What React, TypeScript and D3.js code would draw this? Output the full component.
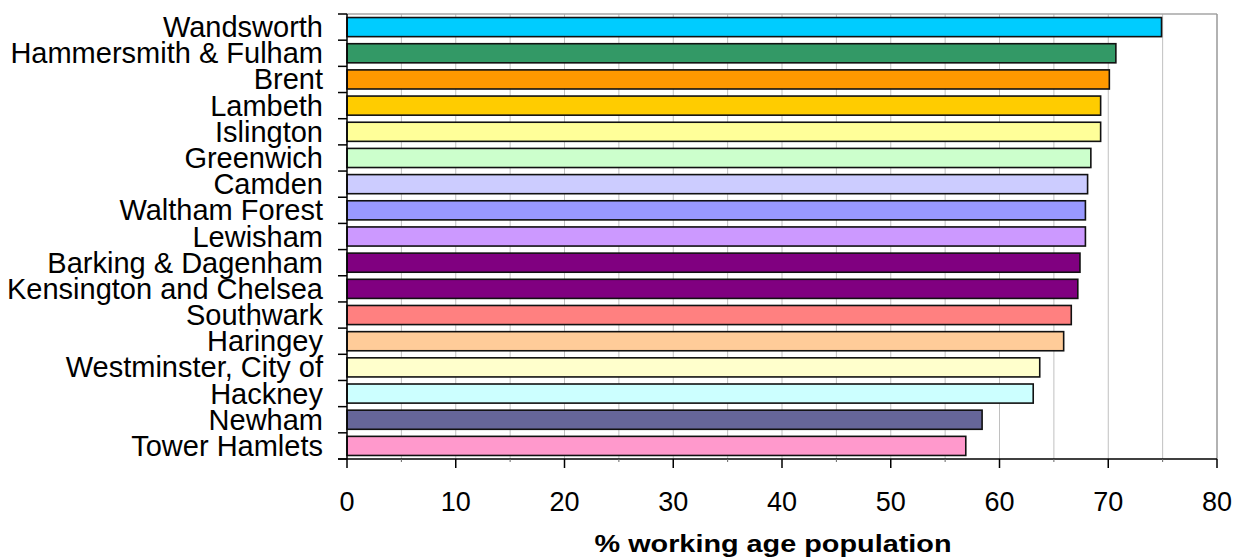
import React from 'react';
import * as d3 from 'd3';

const boroughs = [
  'Wandsworth', 'Hammersmith & Fulham', 'Brent', 'Lambeth', 'Islington', 'Greenwich',
  'Camden', 'Waltham Forest', 'Lewisham', 'Barking & Dagenham', 'Kensington and Chelsea',
  'Southwark', 'Haringey', 'Westminster, City of', 'Hackney', 'Newham', 'Tower Hamlets',
];
const values = [74.9, 70.7, 70.1, 69.3, 69.3, 68.4, 68.1, 67.9, 67.9, 67.4, 67.2, 66.6, 65.9, 63.7, 63.1, 58.4, 56.9];
const colors = [
  '#00CCFF', '#339966', '#FF9900', '#FFCC00', '#FFFF99', '#CCFFCC',
  '#CCCCFF', '#9999FF', '#CC99FF', '#800080', '#800080',
  '#FF8080', '#FFCC99', '#FFFFCC', '#CCFFFF', '#666699', '#FF99CC',
];
const xTicks = [0, 10, 20, 30, 40, 50, 60, 70, 80];
const gridTicks = [5, 10, 15, 20, 25, 30, 35, 40, 45, 50, 55, 60, 65, 70, 75];
const minorTicks = [5, 15, 25, 35, 45, 55, 65, 75];
const xTitle = '% working age population';

const W = 1237;
const H = 559;
const plot = { left: 347, right: 1217, top: 14, bottom: 459 };
const font = 'Arial, "Liberation Sans", sans-serif';

export default function App() {
  const x = d3.scaleLinear().domain([0, 80]).range([plot.left, plot.right]);
  const y = d3.scaleBand<string>().domain(boroughs).range([plot.top, plot.bottom]).paddingInner(0.27).paddingOuter(0.135);
  const step = (plot.bottom - plot.top) / boroughs.length;
  const bounds = d3.range(boroughs.length + 1).map((i) => plot.top + i * step);

  return (
    <div style={{ position: 'absolute', left: 0, top: 0 }}>
      <svg width={W} height={H} style={{ display: 'block', background: '#fff' }}>
        {/* gridlines */}
        {gridTicks.map((t) => (
          <line key={`g${t}`} x1={x(t)} x2={x(t)} y1={plot.top} y2={plot.bottom} stroke="#c0c0c0" strokeWidth={1} />
        ))}
        {/* top and right borders */}
        <line x1={plot.left} x2={plot.right} y1={plot.top} y2={plot.top} stroke="#a6a6a6" strokeWidth={1.5} />
        <line x1={plot.right} x2={plot.right} y1={plot.top} y2={plot.bottom} stroke="#999" strokeWidth={1.5} />

        {/* bars */}
        {boroughs.map((b, i) => (
          <rect
            key={b}
            x={x(0)}
            y={y(b)}
            width={x(values[i]) - x(0)}
            height={y.bandwidth()}
            fill={colors[i]}
            stroke="#111"
            strokeWidth={1.6}
          />
        ))}

        {/* axes */}
        <line x1={plot.left} x2={plot.left} y1={plot.top} y2={plot.bottom} stroke="#000" strokeWidth={1.5} />
        <line x1={plot.left - 9} x2={plot.right} y1={plot.bottom} y2={plot.bottom} stroke="#000" strokeWidth={1.5} />
        {bounds.map((yy, i) => (
          <line key={`yt${i}`} x1={plot.left - 9} x2={plot.left} y1={yy} y2={yy} stroke="#000" strokeWidth={1.5} />
        ))}
        {xTicks.map((t) => (
          <line key={`xt${t}`} x1={x(t)} x2={x(t)} y1={plot.bottom} y2={plot.bottom + 9} stroke="#000" strokeWidth={1.5} />
        ))}
        {minorTicks.map((t) => (
          <line key={`mt${t}`} x1={x(t)} x2={x(t)} y1={plot.bottom} y2={plot.bottom + 3} stroke="#666" strokeWidth={1} />
        ))}

        {/* category labels */}
        {boroughs.map((b) => (
          <text
            key={`l${b}`}
            x={323}
            y={(y(b) ?? 0) + y.bandwidth() / 2 + 10}
            textAnchor="end"
            fontFamily={font}
            fontSize={29}
            fill="#000"
          >
            {b}
          </text>
        ))}

        {/* x tick labels */}
        {xTicks.map((t) => (
          <text key={`xl${t}`} x={x(t)} y={511} textAnchor="middle" fontFamily={font} fontSize={27} fill="#000">
            {t}
          </text>
        ))}

        <text
          x={773}
          y={552}
          textAnchor="middle"
          fontFamily={font}
          fontSize={24}
          fontWeight="bold"
          textLength={357}
          lengthAdjust="spacingAndGlyphs"
          fill="#000"
        >
          {xTitle}
        </text>
      </svg>
    </div>
  );
}
